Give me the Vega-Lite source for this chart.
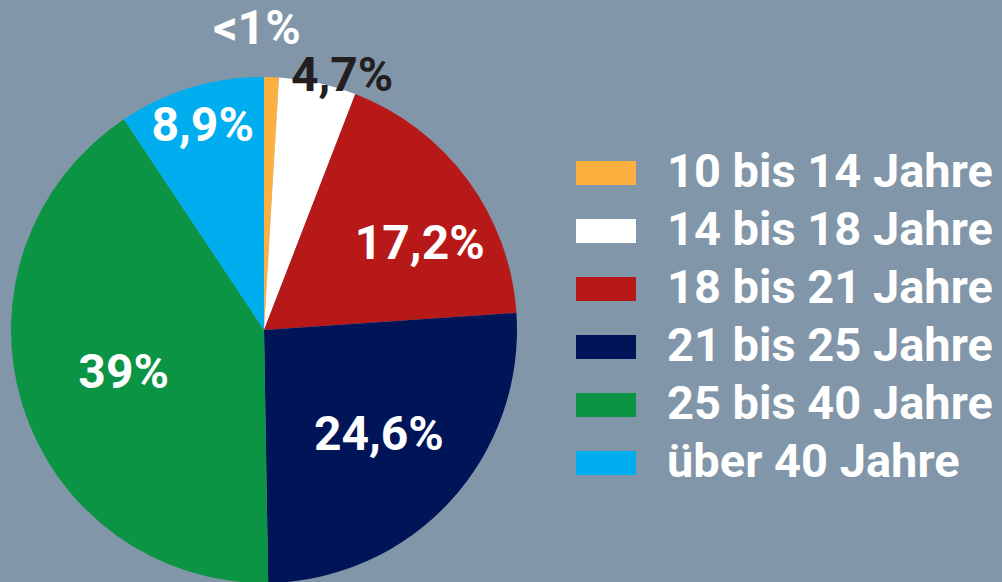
{
  "$schema": "https://vega.github.io/schema/vega-lite/v6.json",
  "width": 528,
  "height": 504,
  "autosize": {"type": "none"},
  "padding": {"left": 0, "top": 78, "right": 474, "bottom": 0},
  "background": "#8296a9",
  "data": {
    "values": [
      {"Gruppe": "10 bis 14 Jahre", "Anteil": 0.9, "Label": "<1%"},
      {"Gruppe": "14 bis 18 Jahre", "Anteil": 4.7, "Label": "4,7%"},
      {"Gruppe": "18 bis 21 Jahre", "Anteil": 17.2, "Label": "17,2%"},
      {"Gruppe": "21 bis 25 Jahre", "Anteil": 24.6, "Label": "24,6%"},
      {"Gruppe": "25 bis 40 Jahre", "Anteil": 39, "Label": "39%"},
      {"Gruppe": "über 40 Jahre", "Anteil": 8.9, "Label": "8,9%"}
    ]
  },
  "encoding": {
    "theta": {"field": "Anteil", "type": "quantitative", "stack": true},
    "order": {"field": "Gruppe", "type": "nominal", "sort": "ascending"}
  },
  "layer": [
    {
      "mark": {"type": "arc", "outerRadius": 253, "strokeWidth": 0},
      "encoding": {
        "color": {
          "field": "Gruppe",
          "type": "nominal",
          "scale": {
            "domain": ["10 bis 14 Jahre", "14 bis 18 Jahre", "18 bis 21 Jahre", "21 bis 25 Jahre", "25 bis 40 Jahre", "über 40 Jahre"],
            "range": ["#fbb040", "#ffffff", "#b71918", "#001458", "#0b9444", "#00aeef"]
          },
          "legend": {
            "title": null,
            "orient": "none",
            "legendX": 582,
            "legendY": 71,
            "symbolType": "M-1.25,-0.5H1.25V0.5H-1.25Z",
            "symbolSize": 2304,
            "symbolStrokeWidth": 0,
            "symbolOpacity": 1,
            "labelFontSize": 47,
            "labelFont": "Roboto",
            "labelFontWeight": "bold",
            "labelColor": "#ffffff",
            "labelOffset": 37,
            "labelLimit": 0,
            "rowPadding": 11
          }
        }
      }
    },
    {
      "mark": {"type": "text", "radius": 300, "dx": -16, "font": "Roboto", "fontWeight": "bold", "fontSize": 48, "color": "#ffffff", "align": "center", "baseline": "middle"},
      "encoding": {"text": {"condition": {"test": "datum.Gruppe === '10 bis 14 Jahre'", "field": "Label", "type": "nominal"}, "value": ""}}
    },
    {
      "mark": {"type": "text", "radius": 259, "dx": 23, "font": "Roboto", "fontWeight": "bold", "fontSize": 48, "color": "#231f20", "align": "center", "baseline": "middle"},
      "encoding": {"text": {"condition": {"test": "datum.Gruppe === '14 bis 18 Jahre'", "field": "Label", "type": "nominal"}, "value": ""}}
    },
    {
      "mark": {"type": "text", "radius": 176, "dx": 14, "dy": 19, "font": "Roboto", "fontWeight": "bold", "fontSize": 48, "color": "#ffffff", "align": "center", "baseline": "middle"},
      "encoding": {"text": {"condition": {"test": "datum.Gruppe === '18 bis 21 Jahre'", "field": "Label", "type": "nominal"}, "value": ""}}
    },
    {
      "mark": {"type": "text", "radius": 156, "font": "Roboto", "fontWeight": "bold", "fontSize": 48, "color": "#ffffff", "align": "center", "baseline": "middle"},
      "encoding": {"text": {"condition": {"test": "datum.Gruppe === '21 bis 25 Jahre'", "field": "Label", "type": "nominal"}, "value": ""}}
    },
    {
      "mark": {"type": "text", "radius": 147, "font": "Roboto", "fontWeight": "bold", "fontSize": 48, "color": "#ffffff", "align": "center", "baseline": "middle"},
      "encoding": {"text": {"condition": {"test": "datum.Gruppe === '25 bis 40 Jahre'", "field": "Label", "type": "nominal"}, "value": ""}}
    },
    {
      "mark": {"type": "text", "radius": 212, "font": "Roboto", "fontWeight": "bold", "fontSize": 48, "color": "#ffffff", "align": "center", "baseline": "middle"},
      "encoding": {"text": {"condition": {"test": "datum.Gruppe === 'über 40 Jahre'", "field": "Label", "type": "nominal"}, "value": ""}}
    }
  ],
  "config": {"view": {"stroke": null}}
}
